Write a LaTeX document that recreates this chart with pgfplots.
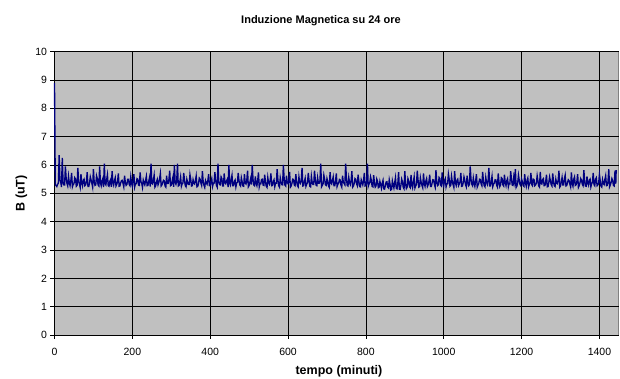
\documentclass[border=0pt]{standalone}
\usepackage{fontspec}
\setmainfont{Liberation Sans}
\usepackage{pgfplots}
\usepackage{pgfplotstable}
\pgfplotsset{compat=1.18}
\definecolor{plotgray}{RGB}{192,192,192}
\definecolor{navyline}{RGB}{0,0,128}
\definecolor{framegray}{RGB}{128,128,128}
\pgfplotstableread[row sep=\\]{
x y\\
0 8.90\\ 2 5.30\\ 4 5.28\\ 6 5.24\\ 8 5.32\\ 10 5.36\\ 12 6.35\\ 14 5.47\\ 16 5.40\\ 18 5.22\\ 20 6.25\\ 22 5.40\\ 24 5.30\\ 26 5.30\\ 28 5.95\\ 30 5.52\\ 32 5.35\\ 34 5.26\\ 36 5.60\\ 38 5.38\\
40 5.27\\ 42 5.45\\ 44 5.72\\ 46 5.23\\ 48 5.31\\ 50 5.34\\ 52 5.55\\ 54 5.50\\ 56 5.25\\ 58 5.28\\ 60 5.90\\ 62 5.41\\ 64 5.33\\ 66 5.21\\ 68 5.68\\ 70 5.37\\ 72 5.26\\ 74 5.46\\ 76 5.50\\ 78 5.27\\
80 5.30\\ 82 5.42\\ 84 5.75\\ 86 5.24\\ 88 5.24\\ 90 5.36\\ 92 5.58\\ 94 5.47\\ 96 5.36\\ 98 5.22\\ 100 5.85\\ 102 5.40\\ 104 5.28\\ 106 5.30\\ 108 5.62\\ 110 5.52\\ 112 5.30\\ 114 5.26\\ 116 5.95\\ 118 5.38\\
120 5.27\\ 122 5.44\\ 124 5.52\\ 126 5.22\\ 128 6.05\\ 130 5.35\\ 132 5.30\\ 134 5.49\\ 136 5.66\\ 138 5.27\\ 140 5.25\\ 142 5.42\\ 144 5.48\\ 146 5.23\\ 148 5.78\\ 150 5.39\\ 152 5.29\\ 154 5.45\\ 156 5.55\\ 158 5.26\\
160 5.32\\ 162 5.41\\ 164 5.70\\ 166 5.25\\ 168 5.26\\ 170 5.37\\ 172 5.45\\ 174 5.46\\ 176 5.35\\ 178 5.23\\ 180 5.62\\ 182 5.39\\ 184 5.28\\ 186 5.31\\ 188 5.50\\ 190 5.50\\ 192 5.31\\ 194 5.27\\ 196 5.58\\ 198 5.36\\
200 5.25\\ 202 5.45\\ 204 5.68\\ 206 5.23\\ 208 5.34\\ 210 5.34\\ 212 5.52\\ 214 5.50\\ 216 5.29\\ 218 5.28\\ 220 5.74\\ 222 5.41\\ 224 5.36\\ 226 5.21\\ 228 5.47\\ 230 5.37\\ 232 5.30\\ 234 5.46\\ 236 5.60\\ 238 5.27\\
240 5.28\\ 242 5.42\\ 244 5.55\\ 246 5.24\\ 248 6.05\\ 250 5.36\\ 252 5.33\\ 254 5.47\\ 256 5.64\\ 258 5.22\\ 260 5.27\\ 262 5.40\\ 264 5.49\\ 266 5.30\\ 268 5.38\\ 270 5.52\\ 272 5.70\\ 274 5.26\\ 276 5.30\\ 278 5.38\\
280 5.46\\ 282 5.44\\ 284 5.26\\ 286 5.22\\ 288 5.62\\ 290 5.35\\ 292 5.35\\ 294 5.49\\ 296 5.80\\ 298 5.27\\ 300 5.29\\ 302 5.42\\ 304 5.55\\ 306 5.23\\ 308 6.00\\ 310 5.39\\ 312 5.32\\ 314 5.45\\ 316 6.05\\ 318 5.26\\
320 5.28\\ 322 5.41\\ 324 5.58\\ 326 5.25\\ 328 5.34\\ 330 5.37\\ 332 5.72\\ 334 5.46\\ 336 5.27\\ 338 5.23\\ 340 5.50\\ 342 5.39\\ 344 5.31\\ 346 5.31\\ 348 5.66\\ 350 5.50\\ 352 5.26\\ 354 5.27\\ 356 5.48\\ 358 5.36\\
360 5.33\\ 362 5.45\\ 364 5.61\\ 366 5.23\\ 368 5.25\\ 370 5.34\\ 372 5.54\\ 374 5.50\\ 376 5.37\\ 378 5.28\\ 380 5.78\\ 382 5.41\\ 384 5.29\\ 386 5.21\\ 388 5.45\\ 390 5.37\\ 392 5.32\\ 394 5.46\\ 396 5.68\\ 398 5.27\\
400 5.27\\ 402 5.42\\ 404 5.52\\ 406 5.24\\ 408 5.35\\ 410 5.36\\ 412 5.75\\ 414 5.47\\ 416 5.28\\ 418 5.22\\ 420 6.05\\ 422 5.40\\ 424 5.31\\ 426 5.30\\ 428 5.58\\ 430 5.52\\ 432 5.26\\ 434 5.26\\ 436 5.70\\ 438 5.38\\
440 5.34\\ 442 5.44\\ 444 5.50\\ 446 5.22\\ 448 6.00\\ 450 5.35\\ 452 5.29\\ 454 5.49\\ 456 5.64\\ 458 5.27\\ 460 5.27\\ 462 5.42\\ 464 5.47\\ 466 5.23\\ 468 5.36\\ 470 5.39\\ 472 5.72\\ 474 5.45\\ 476 5.30\\ 478 5.26\\
480 5.55\\ 482 5.41\\ 484 5.26\\ 486 5.25\\ 488 5.68\\ 490 5.37\\ 492 5.33\\ 494 5.46\\ 496 5.80\\ 498 5.23\\ 500 5.28\\ 502 5.39\\ 504 5.52\\ 506 5.31\\ 508 6.00\\ 510 5.50\\ 512 5.30\\ 514 5.27\\ 516 5.60\\ 518 5.36\\
520 5.27\\ 522 5.45\\ 524 5.74\\ 526 5.23\\ 528 5.35\\ 530 5.34\\ 532 5.49\\ 534 5.50\\ 536 5.29\\ 538 5.28\\ 540 5.66\\ 542 5.41\\ 544 5.25\\ 546 5.21\\ 548 5.56\\ 550 5.37\\ 552 5.32\\ 554 5.46\\ 556 5.70\\ 558 5.27\\
560 5.28\\ 562 5.42\\ 564 5.48\\ 566 5.24\\ 568 5.36\\ 570 5.36\\ 572 5.85\\ 574 5.47\\ 576 5.27\\ 578 5.22\\ 580 5.55\\ 582 5.40\\ 584 5.31\\ 586 5.30\\ 588 6.00\\ 590 5.52\\ 592 5.29\\ 594 5.26\\ 596 5.62\\ 598 5.38\\
600 5.34\\ 602 5.44\\ 604 5.76\\ 606 5.22\\ 608 5.26\\ 610 5.35\\ 612 5.50\\ 614 5.49\\ 616 5.30\\ 618 5.27\\ 620 5.68\\ 622 5.42\\ 624 5.28\\ 626 5.23\\ 628 5.58\\ 630 5.39\\ 632 5.35\\ 634 5.45\\ 636 5.90\\ 638 5.26\\
640 5.27\\ 642 5.41\\ 644 5.53\\ 646 5.25\\ 648 5.33\\ 650 5.37\\ 652 5.72\\ 654 5.46\\ 656 5.25\\ 658 5.23\\ 660 5.60\\ 662 5.39\\ 664 5.31\\ 666 5.31\\ 668 5.80\\ 670 5.50\\ 672 5.29\\ 674 5.27\\ 676 5.55\\ 678 5.36\\
680 5.36\\ 682 5.45\\ 684 6.05\\ 686 5.23\\ 688 5.28\\ 690 5.34\\ 692 5.64\\ 694 5.50\\ 696 5.30\\ 698 5.28\\ 700 5.52\\ 702 5.41\\ 704 5.26\\ 706 5.21\\ 708 5.75\\ 710 5.37\\ 712 5.33\\ 714 5.46\\ 716 5.58\\ 718 5.27\\
720 5.27\\ 722 5.42\\ 724 5.70\\ 726 5.24\\ 728 5.32\\ 730 5.36\\ 732 5.49\\ 734 5.47\\ 736 5.29\\ 738 5.22\\ 740 5.62\\ 742 5.40\\ 744 5.35\\ 746 5.30\\ 748 6.05\\ 750 5.52\\ 752 5.28\\ 754 5.26\\ 756 5.56\\ 758 5.38\\
760 5.31\\ 762 5.44\\ 764 5.78\\ 766 5.22\\ 768 5.26\\ 770 5.35\\ 772 5.52\\ 774 5.49\\ 776 5.34\\ 778 5.27\\ 780 5.66\\ 782 5.42\\ 784 5.24\\ 786 5.23\\ 788 5.48\\ 790 5.39\\ 792 5.30\\ 794 5.45\\ 796 5.72\\ 798 5.26\\
800 5.27\\ 802 5.41\\ 804 6.05\\ 806 5.25\\ 808 5.33\\ 810 5.37\\ 812 5.58\\ 814 5.46\\ 816 5.25\\ 818 5.23\\ 820 5.64\\ 822 5.36\\ 824 5.22\\ 826 5.26\\ 828 5.50\\ 830 5.42\\ 832 5.20\\ 834 5.22\\ 836 5.42\\ 838 5.30\\
840 5.18\\ 842 5.36\\ 844 5.46\\ 846 5.16\\ 848 5.15\\ 850 5.28\\ 852 5.40\\ 854 5.41\\ 856 5.22\\ 858 5.19\\ 860 5.48\\ 862 5.33\\ 864 5.12\\ 866 5.14\\ 868 5.44\\ 870 5.30\\ 872 5.19\\ 874 5.38\\ 876 5.55\\ 878 5.18\\
880 5.16\\ 882 5.34\\ 884 5.75\\ 886 5.15\\ 888 5.14\\ 890 5.29\\ 892 5.50\\ 894 5.40\\ 896 5.21\\ 898 5.16\\ 900 5.78\\ 902 5.33\\ 904 5.17\\ 906 5.22\\ 908 5.52\\ 910 5.44\\ 912 5.24\\ 914 5.20\\ 916 5.65\\ 918 5.31\\
920 5.20\\ 922 5.40\\ 924 5.58\\ 926 5.19\\ 928 5.26\\ 930 5.32\\ 932 5.80\\ 934 5.47\\ 936 5.22\\ 938 5.24\\ 940 5.55\\ 942 5.39\\ 944 5.28\\ 946 5.20\\ 948 5.70\\ 950 5.36\\ 952 5.25\\ 954 5.43\\ 956 5.52\\ 958 5.24\\
960 5.30\\ 962 5.42\\ 964 5.66\\ 966 5.24\\ 968 5.24\\ 970 5.36\\ 972 5.48\\ 974 5.47\\ 976 5.32\\ 978 5.22\\ 980 5.82\\ 982 5.40\\ 984 5.27\\ 986 5.30\\ 988 5.56\\ 990 5.52\\ 992 5.29\\ 994 5.26\\ 996 5.74\\ 998 5.38\\
1000 5.26\\ 1002 5.45\\ 1004 5.52\\ 1006 5.23\\ 1008 5.34\\ 1010 5.34\\ 1012 5.68\\ 1014 5.50\\ 1016 5.25\\ 1018 5.28\\ 1020 5.60\\ 1022 5.41\\ 1024 5.31\\ 1026 5.21\\ 1028 5.78\\ 1030 5.37\\ 1032 5.28\\ 1034 5.46\\ 1036 5.50\\ 1038 5.27\\
1040 5.33\\ 1042 5.41\\ 1044 5.72\\ 1046 5.25\\ 1048 5.26\\ 1050 5.37\\ 1052 5.58\\ 1054 5.46\\ 1056 5.30\\ 1058 5.23\\ 1060 5.62\\ 1062 5.39\\ 1064 5.27\\ 1066 5.31\\ 1068 5.95\\ 1070 5.50\\ 1072 5.32\\ 1074 5.27\\ 1076 5.54\\ 1078 5.36\\
1080 5.25\\ 1082 5.44\\ 1084 5.68\\ 1086 5.22\\ 1088 5.29\\ 1090 5.35\\ 1092 5.50\\ 1094 5.49\\ 1096 5.34\\ 1098 5.27\\ 1100 5.76\\ 1102 5.42\\ 1104 5.27\\ 1106 5.23\\ 1108 5.56\\ 1110 5.39\\ 1112 5.31\\ 1114 5.45\\ 1116 5.90\\ 1118 5.26\\
1120 5.26\\ 1122 5.42\\ 1124 5.60\\ 1126 5.24\\ 1128 5.33\\ 1130 5.36\\ 1132 5.48\\ 1134 5.47\\ 1136 5.28\\ 1138 5.22\\ 1140 5.70\\ 1142 5.40\\ 1144 5.24\\ 1146 5.30\\ 1148 5.55\\ 1150 5.52\\ 1152 5.30\\ 1154 5.26\\ 1156 5.66\\ 1158 5.38\\
1160 5.27\\ 1162 5.45\\ 1164 5.52\\ 1166 5.23\\ 1168 5.35\\ 1170 5.34\\ 1172 5.78\\ 1174 5.50\\ 1176 5.29\\ 1178 5.28\\ 1180 5.58\\ 1182 5.41\\ 1184 5.85\\ 1186 5.21\\ 1188 5.26\\ 1190 5.37\\ 1192 5.64\\ 1194 5.46\\ 1196 5.31\\ 1198 5.27\\
1200 5.50\\ 1202 5.41\\ 1204 5.28\\ 1206 5.25\\ 1208 5.68\\ 1210 5.37\\ 1212 5.25\\ 1214 5.46\\ 1216 5.54\\ 1218 5.23\\ 1220 5.32\\ 1222 5.39\\ 1224 5.72\\ 1226 5.31\\ 1228 5.27\\ 1230 5.50\\ 1232 5.48\\ 1234 5.27\\ 1236 5.30\\ 1238 5.36\\
1240 5.62\\ 1242 5.44\\ 1244 5.26\\ 1246 5.22\\ 1248 5.76\\ 1250 5.35\\ 1252 5.33\\ 1254 5.49\\ 1256 5.52\\ 1258 5.27\\ 1260 5.28\\ 1262 5.42\\ 1264 5.66\\ 1266 5.23\\ 1268 5.24\\ 1270 5.39\\ 1272 5.58\\ 1274 5.45\\ 1276 5.31\\ 1278 5.26\\
1280 5.70\\ 1282 5.42\\ 1284 5.27\\ 1286 5.24\\ 1288 5.50\\ 1290 5.36\\ 1292 5.34\\ 1294 5.47\\ 1296 5.80\\ 1298 5.22\\ 1300 5.26\\ 1302 5.40\\ 1304 5.56\\ 1306 5.30\\ 1308 5.30\\ 1310 5.52\\ 1312 5.64\\ 1314 5.26\\ 1316 5.28\\ 1318 5.38\\
1320 5.48\\ 1322 5.45\\ 1324 5.33\\ 1326 5.23\\ 1328 5.74\\ 1330 5.34\\ 1332 5.25\\ 1334 5.50\\ 1336 5.58\\ 1338 5.28\\ 1340 5.30\\ 1342 5.41\\ 1344 5.68\\ 1346 5.21\\ 1348 5.27\\ 1350 5.37\\ 1352 5.52\\ 1354 5.46\\ 1356 5.32\\ 1358 5.27\\
1360 5.82\\ 1362 5.41\\ 1364 5.26\\ 1366 5.25\\ 1368 5.60\\ 1370 5.37\\ 1372 5.29\\ 1374 5.46\\ 1376 5.50\\ 1378 5.23\\ 1380 5.34\\ 1382 5.39\\ 1384 5.72\\ 1386 5.31\\ 1388 5.27\\ 1390 5.50\\ 1392 5.55\\ 1394 5.27\\ 1396 5.30\\ 1398 5.36\\
1400 5.66\\ 1402 5.44\\ 1404 5.25\\ 1406 5.22\\ 1408 5.48\\ 1410 5.35\\ 1412 5.31\\ 1414 5.49\\ 1416 5.62\\ 1418 5.27\\ 1420 5.28\\ 1422 5.42\\ 1424 5.85\\ 1426 5.23\\ 1428 5.30\\ 1430 5.39\\ 1432 5.52\\ 1434 5.45\\ 1436 5.28\\ 1438 5.26\\
1440 5.80\\ 1442 5.34\\ 1443 5.82\\
}\datatable
\begin{document}
\begin{tikzpicture}
\useasboundingbox (0,0) rectangle (620pt,379pt);
\begin{axis}[
  at={(54.5pt,44pt)}, anchor=south west,
  scale only axis, width=564pt, height=283.3pt,
  xmin=0, xmax=1449, ymin=0, ymax=10,
  xtick={0,200,...,1400}, ytick={0,1,...,10},
  axis lines=left, axis line style={-, black, line width=0.8pt},
  axis background/.style={fill=plotgray, draw=framegray, line width=0.8pt},
  grid=major, major grid style={black, line width=0.75pt},
  tick align=outside,
  xtick style={black, line width=0.7pt},
  ytick style={black, line width=0.7pt},
  major tick length=4pt,
  clip=false,
  /pgf/number format/assume math mode=true,
  /pgf/number format/1000 sep={},
  tick label style={font=\fontsize{10.5}{12}\selectfont},
  xticklabel style={yshift=-6pt},
  xlabel={tempo (minuti)},
  xlabel style={font=\bfseries\fontsize{12.5}{14}\selectfont, at={(axis description cs:0.5044,-0.1377)}, anchor=base},
  ylabel={B (uT)},
  ylabel style={font=\bfseries\fontsize{12.5}{14}\selectfont, at={(axis description cs:-0.0589,0.5)}, anchor=center},
]
\addplot[navyline, line width=1.35pt, mark=none] table[x=x, y=y] {\datatable};
\node[anchor=base, font=\bfseries\fontsize{11}{13}\selectfont, inner sep=0pt] at (rel axis cs:0.4725,1.1002) {Induzione Magnetica su 24 ore};
\end{axis}
\end{tikzpicture}
\end{document}
